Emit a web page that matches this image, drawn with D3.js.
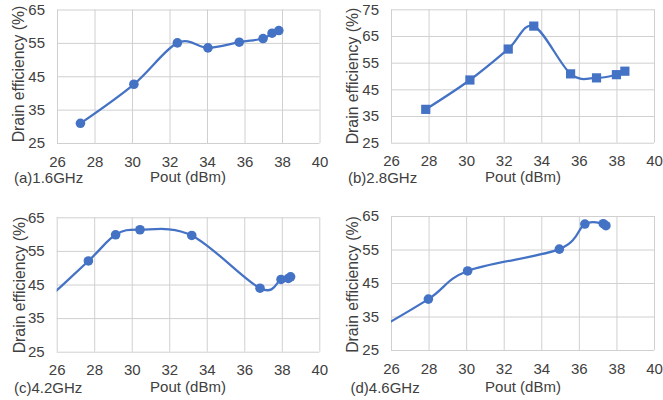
<!DOCTYPE html>
<html><head><meta charset="utf-8">
<script src="https://cdn.jsdelivr.net/npm/d3@7"></script>
<style>
html,body{margin:0;padding:0;background:#fff;}
svg text{font-family:"Liberation Sans",Arial,sans-serif;fill:#404040;}
</style></head>
<body><svg id="c" width="663" height="400"></svg>
<script>
// ---- data ----
const xTicks = [26, 28, 30, 32, 34, 36, 38, 40];
const yTicksA = [25, 35, 45, 55, 65];
const yTicksB = [25, 35, 45, 55, 65, 75];
const yTicksC = [25, 35, 45, 55, 65];
const yTicksD = [25, 35, 45, 55, 65];

const poutA = [27.25, 30.1, 32.42, 34.05, 35.72, 36.99, 37.47, 37.83];
const effA  = [30.9, 42.6, 55.0, 53.5, 55.2, 56.3, 57.9, 58.7];

const poutB = [27.85, 30.2, 32.24, 33.6, 35.56, 36.94, 38.0, 38.45];
const effB  = [37.5, 48.5, 60.1, 68.7, 50.8, 49.3, 50.5, 51.8];

const poutC = [24.6, 27.69, 29.14, 30.44, 33.2, 36.84, 37.96, 38.35, 38.47];
const effC  = [36.0, 52.0, 59.8, 61.3, 59.6, 43.9, 46.5, 46.8, 47.3];

const poutD = [24.6, 27.99, 30.08, 34.96, 36.32, 37.3, 37.44];
const effD  = [29.0, 40.2, 48.6, 55.1, 62.6, 62.7, 62.1];

const panelLabels = ["(a)1.6GHz", "(b)2.8GHz", "(c)4.2GHz", "(d)4.6GHz"];
const xTitle = "Pout (dBm)";
const yTitle = "Drain efficiency (%)";

// ---- layout ----
const panels = [
  {px: poutA, py: effA, yt: yTicksA, marker: "circle", box: [57, 9.5, 319.5, 143], label: panelLabels[0],
   ytx: 24, yty: 74, lx: 14, ly: 183, tx: 188, ty: 182},
  {px: poutB, py: effB, yt: yTicksB, marker: "square", box: [391, 9.3, 654, 142.7], label: panelLabels[1],
   ytx: 358, yty: 76, lx: 348, ly: 183, tx: 523, ty: 182},
  {px: poutC, py: effC, yt: yTicksC, marker: "circle", box: [56.7, 217.3, 319.3, 351.7], label: panelLabels[2],
   ytx: 24.5, yty: 285, lx: 14, ly: 393, tx: 188, ty: 392},
  {px: poutD, py: effD, yt: yTicksD, marker: "circle", box: [391, 216, 654, 350], label: panelLabels[3],
   ytx: 358, yty: 284.5, lx: 350.5, ly: 393, tx: 523, ty: 392}
];

const svg = d3.select("#c");
const blue = "#4472C4";
const grid = "#d0d0d0";
const fs = "15px";

panels.forEach((p, i) => {
  const [x0, y0, x1, y1] = p.box;
  const x = d3.scaleLinear().domain([26, 40]).range([x0, x1]);
  const y = d3.scaleLinear().domain([p.yt[0], p.yt[p.yt.length - 1]]).range([y1, y0]);
  const g = svg.append("g");

  const cid = "clip" + i;
  svg.append("clipPath").attr("id", cid).append("rect")
    .attr("x", x0).attr("y", y0).attr("width", x1 - x0).attr("height", y1 - y0);

  // y gridlines + labels
  const ya = g.append("g").attr("transform", `translate(${x0},0)`)
    .call(d3.axisLeft(y).tickValues(p.yt).tickSizeInner(-(x1 - x0)).tickSizeOuter(0).tickPadding(12));
  ya.select(".domain").remove();
  ya.selectAll("line").attr("stroke", grid).attr("stroke-width", 1);
  ya.selectAll("text").style("font-size", fs).attr("fill", "#404040");

  // x gridlines + labels
  const xa = g.append("g").attr("transform", `translate(0,${y1})`)
    .call(d3.axisBottom(x).tickValues(xTicks).tickSizeInner(-(y1 - y0)).tickSizeOuter(0).tickPadding(13));
  xa.select(".domain").remove();
  xa.selectAll("line").attr("stroke", grid).attr("stroke-width", 1);
  xa.selectAll("text").style("font-size", fs).attr("fill", "#404040");

  // line
  const data = p.px.map((v, k) => [v, p.py[k]]);
  const line = d3.line().x(d => x(d[0])).y(d => y(d[1])).curve(d3.curveCardinal.tension(0));
  const plot = g.append("g").attr("clip-path", `url(#${cid})`);
  plot.append("path").datum(data).attr("d", line)
    .attr("fill", "none").attr("stroke", blue).attr("stroke-width", 2.25);

  if (p.marker === "circle") {
    plot.selectAll("circle").data(data).join("circle")
      .attr("cx", d => x(d[0])).attr("cy", d => y(d[1])).attr("r", 4.8).attr("fill", blue);
  } else {
    plot.selectAll("rect.m").data(data).join("rect").attr("class", "m")
      .attr("x", d => x(d[0]) - 4.6).attr("y", d => y(d[1]) - 4.6)
      .attr("width", 9.2).attr("height", 9.2).attr("fill", blue);
  }

  // titles
  g.append("text").attr("transform", `translate(${p.ytx},${p.yty}) rotate(-90)`)
    .attr("text-anchor", "middle").style("font-size", "15.8px").text(yTitle);
  g.append("text").attr("x", p.tx).attr("y", p.ty).attr("text-anchor", "middle")
    .style("font-size", fs).text(xTitle);
  g.append("text").attr("x", p.lx).attr("y", p.ly).style("font-size", fs).text(p.label);
});
</script>
</body></html>
